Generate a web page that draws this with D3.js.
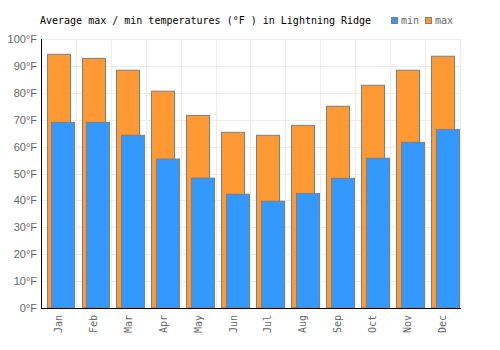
<!DOCTYPE html>
<html>
<head>
<meta charset="utf-8">
<script src="https://cdn.jsdelivr.net/npm/d3@7"></script>
<style>
  body { margin: 0; background: #fff; }
  svg { display: block; }
</style>
</head>
<body>
<svg id="chart"></svg>
<script>
const months = ["Jan", "Feb", "Mar", "Apr", "May", "Jun", "Jul", "Aug", "Sep", "Oct", "Nov", "Dec"];
const maxTemps = [94.3, 92.8, 88.4, 80.6, 71.6, 65.3, 64.2, 67.9, 75.0, 82.8, 88.4, 93.6];
const minTemps = [69.0, 69.0, 64.2, 55.4, 48.3, 42.3, 39.7, 42.6, 48.2, 55.7, 61.6, 66.4];
const yTicks = [0, 10, 20, 30, 40, 50, 60, 70, 80, 90, 100];

const width = 500;
const height = 350;
const plotLeft = 41, plotRight = 460, plotTop = 39, plotBottom = 308;

const svg = d3.select("#chart").attr("width", width).attr("height", height);

const x = d3.scaleBand().domain(months).range([plotLeft, plotRight]).padding(0);
const y = d3.scaleLinear().domain([0, 100]).range([plotBottom, plotTop]);
const bw = x.bandwidth();

// grid
const grid = svg.append("g").attr("stroke", "#ececec").attr("stroke-width", 1);
grid.selectAll(".h")
  .data(yTicks)
  .enter()
  .append("line")
  .attr("x1", plotLeft)
  .attr("x2", plotRight)
  .attr("y1", d => Math.round(y(d)) + 0.5)
  .attr("y2", d => Math.round(y(d)) + 0.5);
grid.selectAll(".v")
  .data(months)
  .enter()
  .append("line")
  .attr("x1", d => Math.round(x(d) + bw) + 0.5)
  .attr("x2", d => Math.round(x(d) + bw) + 0.5)
  .attr("y1", plotTop)
  .attr("y2", plotBottom);

// max bars (behind)
svg.selectAll(".max")
  .data(months)
  .enter()
  .append("rect")
  .attr("class", "max")
  .attr("x", d => Math.round(x(d) + bw * 0.16) + 0.5)
  .attr("width", Math.round(bw * 0.67))
  .attr("y", (d, i) => y(maxTemps[i]))
  .attr("height", (d, i) => plotBottom - y(maxTemps[i]))
  .attr("fill", "#ff9933")
  .attr("stroke", "#7f7f7f")
  .attr("stroke-width", 1);

// min bars (front)
svg.selectAll(".min")
  .data(months)
  .enter()
  .append("rect")
  .attr("class", "min")
  .attr("x", d => Math.round(x(d) + bw * 0.3) + 0.5)
  .attr("width", Math.round(bw * 0.7) - 1)
  .attr("y", (d, i) => y(minTemps[i]))
  .attr("height", (d, i) => plotBottom - y(minTemps[i]))
  .attr("fill", "#3399ff")
  .attr("stroke", "#7f7f7f")
  .attr("stroke-width", 1);

// axes
const yAxis = d3.axisLeft(y).tickValues(yTicks).tickSize(0).tickPadding(4).tickFormat(d => d + "°F");
svg.append("g")
  .attr("transform", `translate(${plotLeft}, 0)`)
  .call(yAxis)
  .call(g => g.select(".domain").remove())
  .selectAll("text")
  .attr("fill", "#666")
  .style("font-family", "'Liberation Sans', Arial, sans-serif")
  .style("font-size", "11px");

const xAxis = d3.axisBottom(x).tickSize(0);
svg.append("g")
  .attr("transform", `translate(0, ${plotBottom})`)
  .call(xAxis)
  .call(g => g.select(".domain").remove())
  .selectAll("text")
  .attr("fill", "#666")
  .style("font-family", "'DejaVu Sans Mono', monospace")
  .style("font-size", "10px")
  .attr("text-anchor", "end")
  .attr("transform", "rotate(-90)")
  .attr("x", -7)
  .attr("y", 0)
  .attr("dy", "0.35em");

svg.append("line")
  .attr("x1", plotLeft + 0.5).attr("x2", plotLeft + 0.5)
  .attr("y1", plotTop).attr("y2", plotBottom + 1)
  .attr("stroke", "#000");
svg.append("line")
  .attr("x1", plotLeft).attr("x2", plotRight + 1)
  .attr("y1", plotBottom + 0.5).attr("y2", plotBottom + 0.5)
  .attr("stroke", "#000");

// title
svg.append("text")
  .attr("x", 40)
  .attr("y", 24)
  .style("font-family", "'DejaVu Sans Mono', monospace")
  .style("font-size", "10px")
  .attr("fill", "#000")
  .text("Average max / min temperatures (°F ) in Lightning Ridge");

// legend
const legend = svg.append("g").attr("id", "legend");
const items = [
  { label: "min", color: "#3399ff", x: 391 },
  { label: "max", color: "#ff9933", x: 425 }
];
items.forEach(it => {
  legend.append("rect")
    .attr("x", it.x + 0.5)
    .attr("y", 17.5)
    .attr("width", 6)
    .attr("height", 6)
    .attr("fill", it.color)
    .attr("stroke", "#7f7f7f");
  legend.append("text")
    .attr("x", it.x + 10)
    .attr("y", 24)
    .attr("fill", "#666")
    .style("font-family", "'DejaVu Sans Mono', monospace")
    .style("font-size", "10px")
    .text(it.label);
});
</script>
</body>
</html>
